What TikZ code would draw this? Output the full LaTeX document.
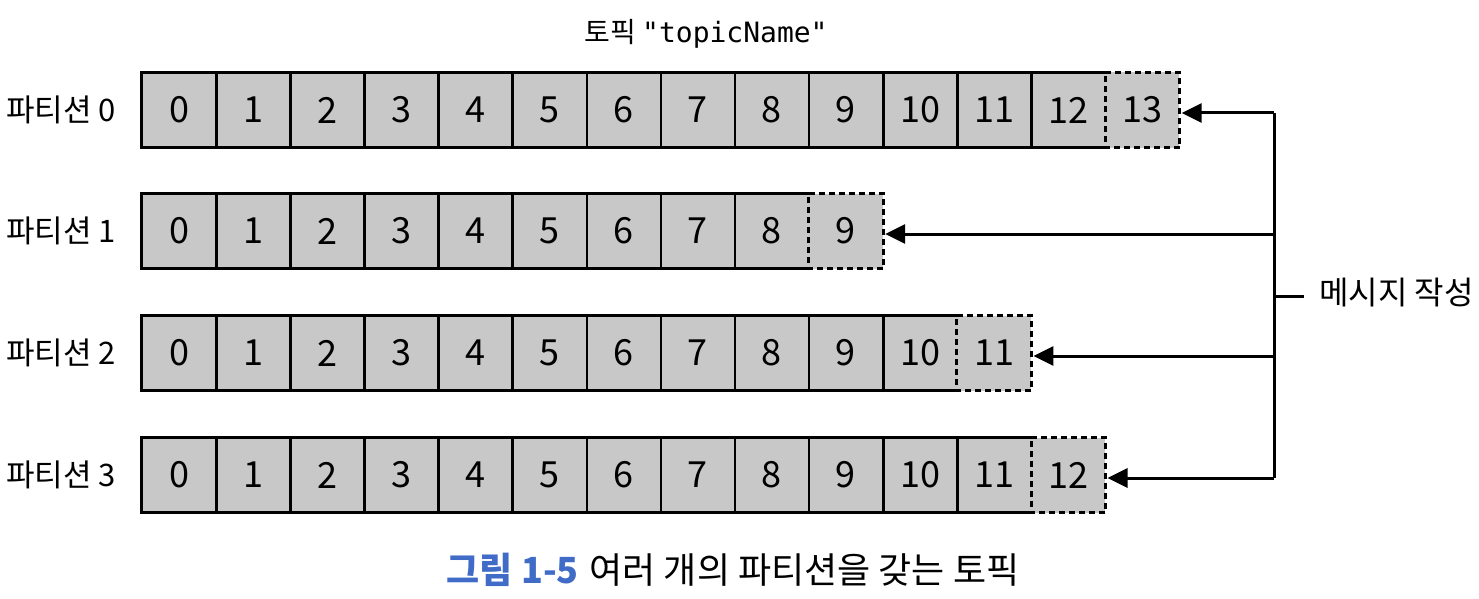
\documentclass[tikz,border=0pt]{standalone}
\usepackage{fontspec}
\setmainfont{Noto Sans CJK KR}
\newfontfamily\monofont{DejaVu Sans Mono}
\usetikzlibrary{arrows.meta}
\definecolor{cellgray}{RGB}{200,200,200}
\definecolor{capblue}{RGB}{64,108,200}
\begin{document}
\begin{tikzpicture}[x=1pt,y=-1pt,
  cell/.style={fill=cellgray, minimum width=74.1pt, minimum height=75pt, inner sep=0pt, font=\fontsize{36}{36}\selectfont},
  outerline/.style={line width=3.2pt, line join=miter},
  divider/.style={line width=2.6pt},
  dashedge/.style={line width=3pt, dash pattern=on 6pt off 4pt},
  lbl/.style={inner sep=0pt, font=\fontsize{31}{31}\selectfont},
  conn/.style={line width=3pt, -{Triangle[length=20pt,width=19pt]}},
  wire/.style={line width=3pt}
]
\useasboundingbox (0,0) rectangle (1479,599);
\node[lbl, font=\fontsize{28}{28}\selectfont] (title) at (706,34) {토픽 {\monofont "topicName"}};
\foreach \r/\n/\y in {0/14/110, 1/10/231, 2/12/353, 3/13/475}{
  \pgfmathtruncatemacro\last{\n-1}
  \pgfmathtruncatemacro\ls{\n-2}
  \pgfmathtruncatemacro\lt{\n-3}
  \node[lbl, anchor=east] (p\r) at (116,\y) {파티션 \r};
  \foreach \i in {0,...,\last}{
    \node[cell] (c\r-\i) at ({142+74.1*\i+37.05},\y) {\i};
  }
  \draw[outerline] (c\r-\ls.north east) -- (c\r-0.north west) -- (c\r-0.south west) -- (c\r-\ls.south east);
  \foreach \i in {0,...,\lt}{
    \draw[divider] (c\r-\i.north east) -- (c\r-\i.south east);
  }
  \draw[dashedge] (c\r-\last.north west) -- (c\r-\last.north east) -- (c\r-\last.south east) -- (c\r-\last.south west) -- cycle;
  \coordinate (b\r) at (1274,\y+3);
  \draw[conn] (b\r) -- ([xshift=2pt]c\r-\last.east |- b\r);
}
\draw[wire] (b0) -- (b3);
\coordinate (bm) at (1274,296);
\coordinate (te) at (1304,296);
\draw[wire] (bm) -- (te);
\node[lbl, font=\fontsize{32}{32}\selectfont, anchor=west] (msg) at (1319,293) {메시지 작성};
\node[lbl, font=\fontsize{36}{36}\selectfont] (cap) at (733,570) {{\color{capblue}\bfseries 그림 1-5}\hspace{0.3em}여러 개의 파티션을 갖는 토픽};
\end{tikzpicture}
\end{document}
